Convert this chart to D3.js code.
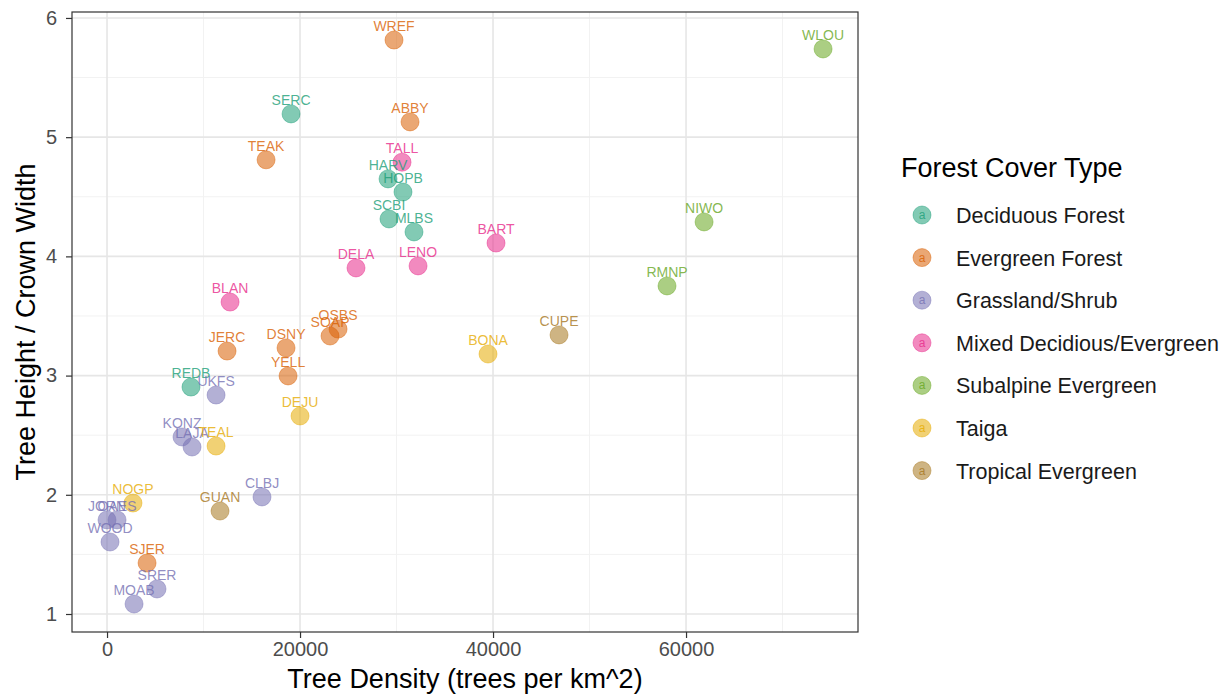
<!DOCTYPE html>
<html>
<head>
<meta charset="utf-8">
<script src="https://cdn.jsdelivr.net/npm/d3@7"></script>
<style>
  body { margin: 0; background: #fff; }
  svg text { font-family: "Liberation Sans", Arial, sans-serif; }
</style>
</head>
<body>
<div class="container"></div>
<script>
const coverTypes = ['Deciduous Forest', 'Evergreen Forest', 'Grassland/Shrub', 'Mixed Decidious/Evergreen',
  'Subalpine Evergreen', 'Taiga', 'Tropical Evergreen'];
const coverColors = ['#1B9E77', '#D95F02', '#7570B3', '#E7298A', '#66A61E', '#E6AB02', '#A6761D'];

const sites = ['WREF', 'WLOU', 'SERC', 'ABBY', 'TEAK', 'TALL', 'HARV', 'HOPB', 'SCBI', 'MLBS',
  'NIWO', 'BART', 'DELA', 'LENO', 'RMNP', 'BLAN', 'OSBS', 'SOAP', 'CUPE', 'JERC',
  'DSNY', 'BONA', 'YELL', 'REDB', 'UKFS', 'DEJU', 'KONZ', 'LAJA', 'TEAL', 'CLBJ',
  'NOGP', 'GUAN', 'JORN', 'OAES', 'WOOD', 'SJER', 'SRER', 'MOAB'];
const siteCover = ['Evergreen Forest', 'Subalpine Evergreen', 'Deciduous Forest', 'Evergreen Forest', 'Evergreen Forest',
  'Mixed Decidious/Evergreen', 'Deciduous Forest', 'Deciduous Forest', 'Deciduous Forest', 'Deciduous Forest',
  'Subalpine Evergreen', 'Mixed Decidious/Evergreen', 'Mixed Decidious/Evergreen', 'Mixed Decidious/Evergreen', 'Subalpine Evergreen',
  'Mixed Decidious/Evergreen', 'Evergreen Forest', 'Evergreen Forest', 'Tropical Evergreen', 'Evergreen Forest',
  'Evergreen Forest', 'Taiga', 'Evergreen Forest', 'Deciduous Forest', 'Grassland/Shrub',
  'Taiga', 'Grassland/Shrub', 'Grassland/Shrub', 'Taiga', 'Grassland/Shrub',
  'Taiga', 'Tropical Evergreen', 'Grassland/Shrub', 'Grassland/Shrub', 'Grassland/Shrub',
  'Evergreen Forest', 'Grassland/Shrub', 'Grassland/Shrub'];
const treeDensity = [29740, 74200, 19070, 31400, 16480, 30570, 29120, 30670, 29220, 31810,
  61870, 40310, 25800, 32230, 58030, 12750, 23940, 23110, 46840, 12440,
  18550, 39480, 18760, 8700, 11300, 20000, 7770, 8810, 11300, 16060,
  2690, 11710, 0, 1040, 310, 4150, 5180, 2800];
const heightWidth = [5.815, 5.74, 5.195, 5.128, 4.81, 4.79, 4.65, 4.54, 4.314, 4.205,
  4.289, 4.112, 3.903, 3.92, 3.752, 3.617, 3.39, 3.332, 3.341, 3.206,
  3.232, 3.181, 2.997, 2.904, 2.837, 2.661, 2.485, 2.401, 2.409, 1.982,
  1.931, 1.864, 1.789, 1.789, 1.604, 1.428, 1.21, 1.084];

const xTicks = [0, 20000, 40000, 60000];
const xMinor = [10000, 30000, 50000, 70000];
const yTicks = [1, 2, 3, 4, 5, 6];
const yMinor = [1.5, 2.5, 3.5, 4.5, 5.5];

const data = sites.map((s, i) => ({ site: s, cover: siteCover[i], x: treeDensity[i], y: heightWidth[i] }));

const width = 1228;
const height = 696;
const panel = { left: 72, right: 858, top: 12, bottom: 632 };

const svg = d3.select('.container').append('svg').attr('width', width).attr('height', height);

const xScale = d3.scaleLinear().domain([-3630, 77820]).range([panel.left, panel.right]);
const yScale = d3.scaleLinear().domain([0.849, 6.05]).range([panel.bottom, panel.top]);
const color = d3.scaleOrdinal().domain(coverTypes).range(coverColors);

// grid
const grid = svg.append('g').attr('class', 'grid');
grid.selectAll('.xminor').data(xMinor).enter().append('line')
  .attr('x1', d => xScale(d)).attr('x2', d => xScale(d))
  .attr('y1', panel.top).attr('y2', panel.bottom)
  .attr('stroke', '#F2F2F2').attr('stroke-width', 1);
grid.selectAll('.yminor').data(yMinor).enter().append('line')
  .attr('y1', d => yScale(d)).attr('y2', d => yScale(d))
  .attr('x1', panel.left).attr('x2', panel.right)
  .attr('stroke', '#F2F2F2').attr('stroke-width', 1);
grid.selectAll('.xmajor').data(xTicks).enter().append('line')
  .attr('x1', d => xScale(d)).attr('x2', d => xScale(d))
  .attr('y1', panel.top).attr('y2', panel.bottom)
  .attr('stroke', '#E6E6E6').attr('stroke-width', 1.6);
grid.selectAll('.ymajor').data(yTicks).enter().append('line')
  .attr('y1', d => yScale(d)).attr('y2', d => yScale(d))
  .attr('x1', panel.left).attr('x2', panel.right)
  .attr('stroke', '#E6E6E6').attr('stroke-width', 1.6);

// points + labels
const pts = svg.append('g').attr('class', 'points');
pts.selectAll('circle').data(data).enter().append('circle')
  .attr('cx', d => xScale(d.x))
  .attr('cy', d => yScale(d.y))
  .attr('r', 9)
  .attr('fill', d => color(d.cover))
  .attr('fill-opacity', 0.55)
  .attr('stroke', d => color(d.cover))
  .attr('stroke-opacity', 0.45)
  .attr('stroke-width', 1);

pts.selectAll('text').data(data).enter().append('text')
  .attr('x', d => xScale(d.x))
  .attr('y', d => yScale(d.y) - 9)
  .attr('text-anchor', 'middle')
  .attr('font-size', 14)
  .attr('fill', d => color(d.cover))
  .attr('fill-opacity', 0.8)
  .text(d => d.site);

// panel border
svg.append('rect')
  .attr('x', panel.left).attr('y', panel.top)
  .attr('width', panel.right - panel.left).attr('height', panel.bottom - panel.top)
  .attr('fill', 'none').attr('stroke', '#333').attr('stroke-width', 1.2);

// axes
const bottomAxis = d3.axisBottom(xScale).tickValues(xTicks).tickFormat(d3.format('d')).tickSize(6).tickPadding(4);
const leftAxis = d3.axisLeft(yScale).tickValues(yTicks).tickFormat(d3.format('d')).tickSize(6).tickPadding(9);
const bx = svg.append('g').attr('transform', `translate(0,${panel.bottom})`).call(bottomAxis);
const ly = svg.append('g').attr('transform', `translate(${panel.left},0)`).call(leftAxis);
[bx, ly].forEach(g => {
  g.select('.domain').remove();
  g.selectAll('line').attr('stroke', '#333').attr('stroke-width', 1.2);
  g.selectAll('text').attr('fill', '#4D4D4D').attr('font-size', 20)
    .attr('font-family', '"Liberation Sans", Arial, sans-serif');
});

svg.append('text')
  .text('Tree Density (trees per km^2)')
  .attr('x', (panel.left + panel.right) / 2)
  .attr('y', 688)
  .attr('text-anchor', 'middle')
  .attr('font-size', 27);

svg.append('text')
  .text('Tree Height / Crown Width')
  .attr('transform', `translate(35,${(panel.top + panel.bottom) / 2}) rotate(-90)`)
  .attr('text-anchor', 'middle')
  .attr('font-size', 27);

// legend
const legend = svg.append('g').attr('class', 'legend');
legend.append('text').text('Forest Cover Type')
  .attr('x', 901).attr('y', 177).attr('font-size', 27);
const item = legend.selectAll('.item').data(coverTypes).enter().append('g')
  .attr('transform', (d, i) => `translate(0,${215 + i * 42.6})`);
item.append('circle').attr('cx', 922).attr('cy', 0).attr('r', 9)
  .attr('fill', d => color(d)).attr('fill-opacity', 0.55)
  .attr('stroke', d => color(d)).attr('stroke-opacity', 0.45);
item.append('text').text('a').attr('x', 922).attr('y', 4).attr('text-anchor', 'middle')
  .attr('font-size', 12).attr('fill', d => color(d)).attr('fill-opacity', 0.8);
item.append('text').text(d => d).attr('x', 956).attr('y', 8).attr('font-size', 21.5).attr('fill', '#1A1A1A');
</script>
</body>
</html>
